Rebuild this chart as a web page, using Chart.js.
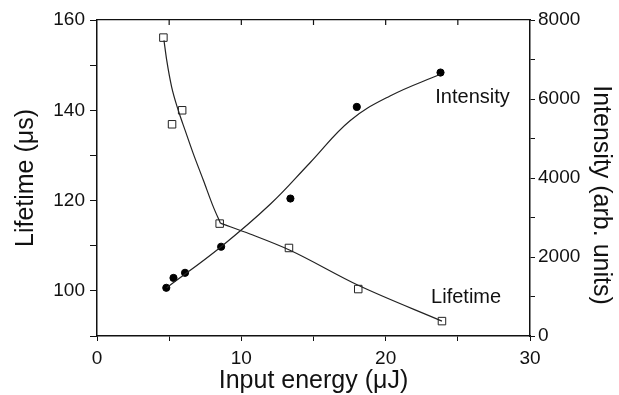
<!DOCTYPE html>
<html>
<head>
<meta charset="utf-8">
<script src="https://cdn.jsdelivr.net/npm/chart.js@4"></script>
<style>
  body { margin: 0; background: #fff; }
  #wrap { width: 619px; height: 395px; }
</style>
</head>
<body>
<div id="wrap"><canvas id="lifetimeChart"></canvas></div>
<script>
// measured points
const energy = [4.6, 5.2, 5.9, 8.5, 13.3, 18.1, 23.9];
const lifetime = [156.1, 136.9, 140.0, 114.9, 109.5, 100.4, 93.3];
const energyI = [4.8, 5.3, 6.1, 8.6, 13.4, 18.0, 23.8];
const intensity = [1220, 1470, 1600, 2260, 3480, 5800, 6670];

// fitted lines
const fitLifeX = [4.64, 4.83, 5.17, 5.63, 6.1, 6.67, 7.37, 8.06, 8.55];
const fitLifeY = [155.5, 151.1, 145.2, 140.0, 135.6, 130.4, 124.5, 118.6, 115.0];
const fitLife2X = [8.55, 10.6, 13.37, 18.06, 23.9];
const fitLife2Y = [115.0, 112.6, 109.0, 101.3, 93.3];
const fitIntX = [4.83, 8.6, 12.0, 14.76, 17.53, 20.3, 23.77];
const fitIntY = [1223, 2261, 3334, 4387, 5450, 6076, 6625];

const xTicks = [0, 10, 20, 30];
const lifeTicks = [100, 120, 140, 160];
const intTicks = [0, 2000, 4000, 6000, 8000];
const topTicks = [5, 10, 15, 20, 25];

const pts = (xs, ys) => xs.map((x, i) => ({ x: x, y: ys[i] }));
const FAMILY = 'Liberation Sans, Arial, sans-serif';
const font = { family: FAMILY, size: 19 };

// curve labels and axis titles
const textLabels = [
    { text: 'Intensity', x: 28.6, y: 142.9 },
    { text: 'Lifetime', x: 28.0, y: 98.6 }
];
const axisTitles = {
    x: 'Input energy (\u03bcJ)',
    y: 'Lifetime (\u03bcs)',
    y2: 'Intensity (arb. units)'
};

const labelPlugin = {
    id: 'curveLabels',
    afterDraw(chart) {
        const c = chart.ctx;
        const sx = chart.scales.x, sy = chart.scales.y;
        c.save();
        c.fillStyle = '#111';
        c.font = '20px ' + FAMILY;
        c.textAlign = 'right';
        c.textBaseline = 'middle';
        textLabels.forEach(l => {
            c.fillText(l.text, sx.getPixelForValue(l.x), sy.getPixelForValue(l.y));
        });

        // top axis ticks point inward
        c.strokeStyle = '#111';
        c.lineWidth = 1.2;
        topTicks.forEach(v => {
            const px = sx.getPixelForValue(v);
            c.beginPath();
            c.moveTo(px, chart.chartArea.top);
            c.lineTo(px, chart.chartArea.top + 5);
            c.stroke();
        });

        c.font = '25px ' + FAMILY;
        c.textAlign = 'center';
        c.textBaseline = 'alphabetic';
        c.fillText(axisTitles.x, (chart.chartArea.left + chart.chartArea.right) / 2, 388);

        c.save();
        c.translate(33, (chart.chartArea.top + chart.chartArea.bottom) / 2);
        c.rotate(-Math.PI / 2);
        c.fillText(axisTitles.y, 0, 0);
        c.restore();

        c.save();
        c.translate(594, 195);
        c.rotate(Math.PI / 2);
        c.fillText(axisTitles.y2, 0, 0);
        c.restore();
        c.restore();
    }
};

const ctx = document.getElementById('lifetimeChart').getContext('2d');
new Chart(ctx, {
    type: 'scatter',
    data: {
        datasets: [
            { data: pts(fitLifeX, fitLifeY), yAxisID: 'y', showLine: true, pointRadius: 0,
              borderColor: '#222', borderWidth: 1.2, cubicInterpolationMode: 'monotone' },
            { data: pts(fitLife2X, fitLife2Y), yAxisID: 'y', showLine: true, pointRadius: 0,
              borderColor: '#222', borderWidth: 1.2, cubicInterpolationMode: 'monotone' },
            { data: pts(fitIntX, fitIntY), yAxisID: 'y2', showLine: true, pointRadius: 0,
              borderColor: '#222', borderWidth: 1.2, tension: 0.4 },
            { data: pts(energy, lifetime), yAxisID: 'y', pointStyle: 'rect', pointRadius: 5.3,
              backgroundColor: '#fff', borderColor: '#222', borderWidth: 1 },
            { data: pts(energyI, intensity), yAxisID: 'y2', pointStyle: 'circle', pointRadius: 3.6,
              backgroundColor: '#000', borderColor: '#000', borderWidth: 1 }
        ]
    },
    options: {
        responsive: true,
        maintainAspectRatio: false,
        animation: false,
        layout: { padding: 0 },
        plugins: { legend: { display: false }, tooltip: { enabled: false } },
        scales: {
            x: {
                type: 'linear', position: 'bottom', min: 0, max: 30,
                afterFit: s => { s.height = 59; },
                border: { color: '#111', width: 1.5 },
                grid: { drawOnChartArea: false, tickLength: 5, color: '#111' },
                ticks: { stepSize: 5, color: '#111', font: font, padding: 6, maxRotation: 0,
                         callback: v => xTicks.includes(v) ? v : '' }
            },
            xTop: {
                type: 'linear', position: 'top', min: 0, max: 30,
                afterFit: s => { s.height = 20; },
                border: { color: '#111', width: 1.2 },
                grid: { drawOnChartArea: false, drawTicks: false },
                ticks: { display: false }
            },
            y: {
                type: 'linear', position: 'left', min: 90, max: 160,
                afterFit: s => { s.width = 97; },
                border: { color: '#111', width: 1.5 },
                grid: { drawOnChartArea: false, tickLength: 7, color: '#111' },
                ticks: { stepSize: 10, color: '#111', font: font, padding: 5,
                         callback: v => lifeTicks.includes(v) ? v : '' }
            },
            y2: {
                type: 'linear', position: 'right', min: 0, max: 8000,
                afterFit: s => { s.width = 89; },
                border: { color: '#111', width: 1.5 },
                grid: { drawOnChartArea: false, tickLength: 5, color: '#111' },
                ticks: { stepSize: 1000, color: '#111', font: font, padding: 3,
                         callback: v => intTicks.includes(v) ? v : '' }
            }
        }
    },
    plugins: [labelPlugin]
});
</script>
</body>
</html>
